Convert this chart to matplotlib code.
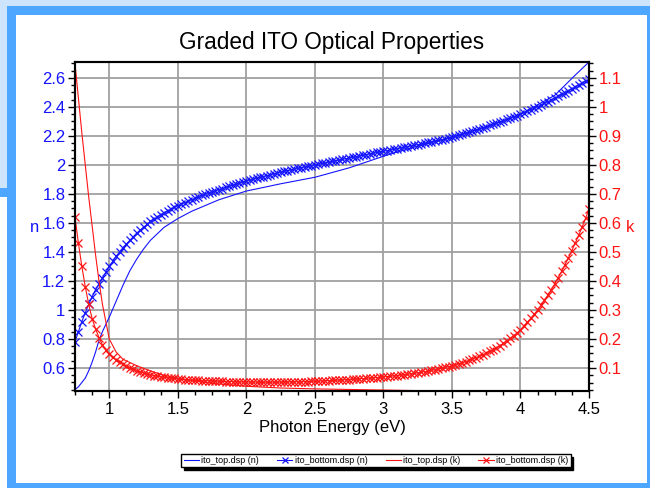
import matplotlib
matplotlib.use("Agg")
import matplotlib.pyplot as plt
from matplotlib.patches import Rectangle
from matplotlib.ticker import MultipleLocator
import numpy as np

plt.rcParams["font.family"] = "Liberation Sans"

# photon energy grid of the "bottom" files (eV)
energy = np.linspace(0.75, 4.5, 151)

n_bottom = [
    0.78, 0.85, 0.92, 0.98, 1.04, 1.09, 1.14, 1.18, 1.22, 1.26, 1.30,
    1.335, 1.37, 1.40, 1.43, 1.455, 1.48, 1.505, 1.53, 1.55, 1.57,
    1.59, 1.61, 1.625, 1.64, 1.655, 1.67, 1.682, 1.695, 1.707, 1.72,
    1.73, 1.74, 1.75, 1.76, 1.77, 1.78, 1.79, 1.80, 1.807, 1.815,
    1.822, 1.83, 1.837, 1.845, 1.852, 1.86, 1.867, 1.875, 1.882, 1.89,
    1.896, 1.902, 1.908, 1.914, 1.92, 1.926, 1.932, 1.938, 1.944, 1.95,
    1.956, 1.961, 1.966, 1.971, 1.976, 1.981, 1.986, 1.991, 1.996, 2.000,
    2.005, 2.010, 2.014, 2.019, 2.024, 2.029, 2.033, 2.038, 2.043, 2.048,
    2.052, 2.057, 2.062, 2.067, 2.071, 2.076, 2.081, 2.086, 2.090, 2.095,
    2.099, 2.104, 2.108, 2.113, 2.117, 2.122, 2.126, 2.131, 2.135, 2.140,
    2.145, 2.150, 2.155, 2.160, 2.165, 2.170, 2.175, 2.180, 2.185, 2.190,
    2.197, 2.204, 2.211, 2.218, 2.226, 2.233, 2.241, 2.249, 2.257, 2.265,
    2.273, 2.281, 2.289, 2.297, 2.305, 2.314, 2.322, 2.331, 2.340, 2.350,
    2.360, 2.370, 2.380, 2.391, 2.402, 2.413, 2.424, 2.436, 2.448, 2.460,
    2.473, 2.486, 2.499, 2.512, 2.525, 2.538, 2.551, 2.564, 2.577, 2.590,
]

k_bottom = [
    0.62, 0.53, 0.45, 0.38, 0.32, 0.27, 0.235, 0.205, 0.18, 0.162, 0.148,
    0.137, 0.128, 0.12, 0.113, 0.107, 0.101, 0.096, 0.091, 0.087, 0.083,
    0.080, 0.077, 0.074, 0.072, 0.070, 0.068, 0.066, 0.065, 0.064, 0.062,
    0.061, 0.060, 0.059, 0.058, 0.0575, 0.057, 0.0565, 0.056, 0.0555, 0.055,
    0.0546, 0.0542, 0.0538, 0.0534, 0.053, 0.0527, 0.0524, 0.0521, 0.0519, 0.0517,
    0.0515, 0.0513, 0.0512, 0.0511, 0.051, 0.051, 0.051, 0.051, 0.0511, 0.0512,
    0.0514, 0.0516, 0.0518, 0.052, 0.0523, 0.0526, 0.053, 0.0534, 0.0538, 0.0543,
    0.0548, 0.0553, 0.0558, 0.0564, 0.057, 0.0576, 0.0582, 0.0589, 0.0596, 0.0603,
    0.061, 0.0618, 0.0626, 0.0634, 0.0643, 0.0652, 0.0661, 0.0671, 0.0681, 0.0692,
    0.0703, 0.0715, 0.0727, 0.074, 0.0754, 0.0768, 0.0783, 0.0799, 0.0816, 0.0834,
    0.0853, 0.0873, 0.0894, 0.0916, 0.094, 0.0965, 0.0991, 0.102, 0.105, 0.108,
    0.111, 0.1145, 0.118, 0.122, 0.126, 0.1305, 0.135, 0.14, 0.145, 0.151,
    0.157, 0.163, 0.17, 0.177, 0.185, 0.193, 0.202, 0.211, 0.221, 0.232,
    0.245, 0.258, 0.271, 0.285, 0.3, 0.316, 0.333, 0.351, 0.37, 0.39,
    0.411, 0.433, 0.456, 0.48, 0.505, 0.531, 0.558, 0.586, 0.616, 0.648,
]

# "top" files, thin lines
e_top_n = [0.75, 0.775, 0.8, 0.825, 0.85, 0.875, 0.9, 0.925, 0.95, 0.975, 1.0,
           1.05, 1.1, 1.15, 1.2, 1.25, 1.3, 1.4, 1.5, 1.6, 1.7, 1.8, 1.9, 2.0,
           2.25, 2.5, 2.75, 3.0, 3.25, 3.5, 3.75, 4.0, 4.25, 4.4, 4.5]
n_top = [0.45, 0.47, 0.50, 0.53, 0.58, 0.64, 0.71, 0.79, 0.85, 0.90, 0.95,
         1.06, 1.17, 1.27, 1.35, 1.42, 1.48, 1.57, 1.63, 1.68, 1.72, 1.76, 1.79, 1.82,
         1.87, 1.915, 1.98, 2.06, 2.13, 2.19, 2.26, 2.35, 2.48, 2.62, 2.71]

e_top_k = [0.75, 0.775, 0.8, 0.825, 0.85, 0.875, 0.9, 0.925, 0.95, 0.975, 1.0,
           1.05, 1.1, 1.2, 1.3, 1.4, 1.5, 1.75, 2.0, 2.25, 2.5, 2.75, 3.0, 3.5, 4.0, 4.5]
k_top = [1.15, 1.03, 0.91, 0.80, 0.69, 0.59, 0.49, 0.40, 0.32, 0.26, 0.20,
         0.155, 0.13, 0.108, 0.09, 0.075, 0.064, 0.047, 0.037, 0.031, 0.028, 0.026,
         0.024, 0.02, 0.017, 0.014]

labels = ["ito_top.dsp (n)", "ito_bottom.dsp (n)", "ito_top.dsp (k)", "ito_bottom.dsp (k)"]

blue = "#1414ff"
red = "#ff1414"
W, H = 650, 488

fig = plt.figure(figsize=(W / 100, H / 100), dpi=100)


def px_rect(x0, y0, x1, y1, color):
    fig.add_artist(Rectangle((x0 / W, 1 - y1 / H), (x1 - x0) / W, (y1 - y0) / H,
                             transform=fig.transFigure, facecolor=color, linewidth=0))


# slide-style frame around the chart
px_rect(0, 0, W, 6, "#cce5fc")
px_rect(0, 0, 7, 188, "#cce5fc")
px_rect(0, 188, 16, 197, "#4da6ff")
px_rect(7, 6, W, 15, "#4da6ff")
px_rect(7, 6, 16, H, "#4da6ff")
px_rect(7, 483, W, H, "#4da6ff")
px_rect(647, 6, W, H, "#4da6ff")

ax = fig.add_axes([75 / W, 1 - 391 / H, (589 - 75) / W, (391 - 62) / H])
ax2 = ax.twinx()

l1, = ax.plot(e_top_n, n_top, color=blue, lw=0.8)
l2, = ax.plot(energy, n_bottom, color=blue, lw=0.8, marker="x", ms=6, mew=0.9)
l3, = ax2.plot(e_top_k, k_top, color=red, lw=0.8)
l4, = ax2.plot(energy, k_bottom, color=red, lw=0.8, marker="x", ms=6, mew=0.9)

ax.set_xlim(0.75, 4.5)
ax.set_ylim(0.441, 2.71)
ax2.set_ylim(0.0207, 1.155)

ax.xaxis.set_major_locator(MultipleLocator(0.5))
ax.xaxis.set_minor_locator(MultipleLocator(0.125))
ax.yaxis.set_major_locator(MultipleLocator(0.2))
ax.yaxis.set_minor_locator(MultipleLocator(0.05))
ax2.yaxis.set_major_locator(MultipleLocator(0.1))
ax2.yaxis.set_minor_locator(MultipleLocator(0.025))

ax.xaxis.set_major_formatter(plt.FuncFormatter(lambda v, p: f"{v:g}"))
ax.yaxis.set_major_formatter(plt.FuncFormatter(lambda v, p: f"{v:g}"))
ax2.yaxis.set_major_formatter(plt.FuncFormatter(lambda v, p: f"{v:g}"))

ax.grid(True, which="major", color="#a0a0a0", lw=1.3)
ax.set_axisbelow(True)

for a in (ax, ax2):
    a.tick_params(which="major", length=5, width=1, direction="out", labelsize=12)
    a.tick_params(which="minor", length=3, width=1, direction="out")
    for s in a.spines.values():
        s.set_linewidth(1.5)
ax.tick_params(axis="y", labelcolor=blue, pad=2)
ax.tick_params(axis="x", pad=3)
ax2.tick_params(axis="y", labelcolor=red, pad=2)

ax.set_xlabel("Photon Energy (eV)", fontsize=12, labelpad=2)
fig.text(35 / W, 1 - 227 / H, "n", color=blue, fontsize=12, ha="center", va="center")
fig.text(630 / W, 1 - 227 / H, "k", color=red, fontsize=12, ha="center", va="center")
fig.text(332 / W, 1 - 43 / H, "Graded ITO Optical Properties", fontsize=16.3,
         ha="center", va="center")

leg = fig.legend([l1, l2, l3, l4], labels, loc="center",
                 bbox_to_anchor=(376 / W, 1 - 460.5 / H), bbox_transform=fig.transFigure,
                 ncol=4, fontsize=6.5, fancybox=False, edgecolor="black", framealpha=1,
                 shadow={"color": "black", "alpha": 1}, handlelength=1.7, markerscale=0.8,
                 handletextpad=0.25, columnspacing=2.0, borderpad=0.25, borderaxespad=0)
leg.get_frame().set_linewidth(1.0)

fig.savefig("out.png", dpi=100)
